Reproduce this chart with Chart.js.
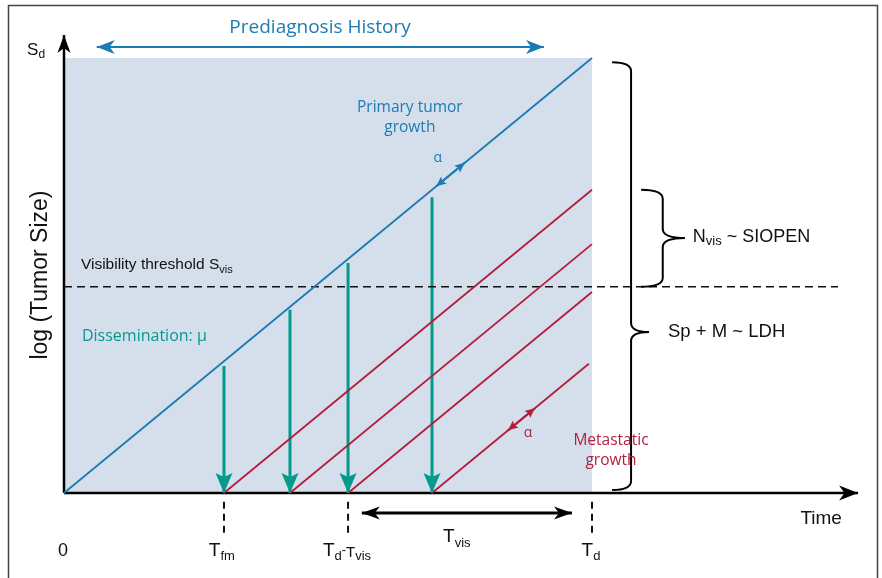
<!DOCTYPE html>
<html>
<head>
<meta charset="utf-8">
<script src="https://cdn.jsdelivr.net/npm/chart.js@4.4.1/dist/chart.umd.min.js"></script>
<style>
  html, body { margin: 0; padding: 0; background: #fff; }
  #wrap { width: 882px; height: 578px; position: relative; }
</style>
</head>
<body>
<div id="wrap"><canvas id="chart" width="882" height="578"></canvas></div>
<script>
// Schematic of tumour history: primary growth, dissemination, metastatic growth
// x = time (T_d = 10), y = log(tumor size) (S_d = 10)
const diagnosisTime = 10;          // T_d
const diagnosisSize = 10;          // S_d
const visibilityThreshold = 4.74;  // S_vis
const thresholdEnd = 14.66;
const metastasisOnsets = [3.03, 4.28, 5.38, 6.97];
const metastasisEnds = [10, 10, 10, 9.94];
const disseminationTops = [2.92, 4.21, 5.29, 6.80];
const timeTicks = [3.03, 5.38, 10];      // T_fm, T_d - T_vis, T_d
const tickSpan = [-0.2, -0.95];
const tvisSpan = [5.64, 9.62];
const tvisLevel = -0.46;
const historySpan = [0.62, 9.09];
const historyLevel = 10.25;
const primaryAlpha = [7.05, 7.59];
const metastasisAlpha = [8.41, 8.92];
const axisTips = [15.04, 10.53];         // x arrow tip, y arrow tip

const BLUE = '#1b7bb4';
const RED = '#b31e3d';
const TEAL = '#039a8c';
const SHADE = '#d5dfec';
const BLACK_FONT = 'Arial, "Liberation Sans", sans-serif';
const COLOR_FONT = '"Open Sans", Arial, sans-serif';

function seg(x0, y0, x1, y1) {
    return [{ x: x0, y: y0 }, { x: x1, y: y1 }];
}

const datasets = [];

// shaded prediagnosis area
datasets.push({
    data: seg(0, diagnosisSize, diagnosisTime, diagnosisSize),
    borderWidth: 0, borderColor: 'rgba(0,0,0,0)',
    backgroundColor: SHADE, fill: 'origin', order: 10
});

// primary tumor growth
datasets.push({
    data: seg(0, 0, diagnosisTime, diagnosisSize),
    borderColor: BLUE, borderWidth: 1.8
});

// metastatic growth lines
metastasisOnsets.forEach((t, i) => {
    datasets.push({
        data: seg(t, 0, metastasisEnds[i], metastasisEnds[i] - t),
        borderColor: RED, borderWidth: 1.8
    });
});

// visibility threshold
datasets.push({
    data: seg(0, visibilityThreshold, thresholdEnd, visibilityThreshold),
    borderColor: '#111', borderWidth: 1.6, borderDash: [8, 5]
});

// dissemination arrows
metastasisOnsets.forEach((t, i) => {
    datasets.push({
        data: seg(t, disseminationTops[i], t, 0),
        borderColor: TEAL, borderWidth: 3,
        arrow: 'end', headLen: 20, headWidth: 17, notch: 0.8
    });
});

// dashed time ticks below the axis
timeTicks.forEach(t => {
    datasets.push({
        data: seg(t, tickSpan[0], t, tickSpan[1]),
        borderColor: '#111', borderWidth: 2, borderDash: [7, 5]
    });
});

// axes
datasets.push({
    data: seg(0, 0, 0, axisTips[1]),
    borderColor: '#000', borderWidth: 2.5, arrow: 'end', headLen: 18, headWidth: 13
});
datasets.push({
    data: seg(0, 0, axisTips[0], 0),
    borderColor: '#000', borderWidth: 2.5, arrow: 'end', headLen: 19, headWidth: 15
});

// prediagnosis history span
datasets.push({
    data: seg(historySpan[0], historyLevel, historySpan[1], historyLevel),
    borderColor: BLUE, borderWidth: 2, arrow: 'both', headLen: 18, headWidth: 14
});

// T_vis span
datasets.push({
    data: seg(tvisSpan[0], tvisLevel, tvisSpan[1], tvisLevel),
    borderColor: '#000', borderWidth: 3, arrow: 'both', headLen: 18, headWidth: 13
});

// alpha growth-rate markers
datasets.push({
    data: seg(primaryAlpha[0], primaryAlpha[0], primaryAlpha[1], primaryAlpha[1]),
    borderColor: BLUE, borderWidth: 2, arrow: 'both', headLen: 10, headWidth: 9, notch: 0.8
});
const lastOnset = metastasisOnsets[metastasisOnsets.length - 1];
datasets.push({
    data: seg(metastasisAlpha[0], metastasisAlpha[0] - lastOnset, metastasisAlpha[1], metastasisAlpha[1] - lastOnset),
    borderColor: RED, borderWidth: 2, arrow: 'both', headLen: 10, headWidth: 9, notch: 0.8
});

datasets.forEach(d => {
    d.showLine = true;
    d.pointRadius = 0;
    d.pointHoverRadius = 0;
    d.clip = false;
    if (d.fill === undefined) d.fill = false;
    if (d.order === undefined) d.order = 0;
});

// notched arrow head with its tip at (x, y), pointing along (dx, dy)
function arrowHead(ctx, x, y, dx, dy, len, width, notch, color) {
    const n = Math.hypot(dx, dy);
    const ux = dx / n, uy = dy / n;
    const nx = -uy, ny = ux;
    const bx = x - ux * len, by = y - uy * len;
    const mx = x - ux * len * notch, my = y - uy * len * notch;
    ctx.beginPath();
    ctx.moveTo(x, y);
    ctx.lineTo(bx + nx * width / 2, by + ny * width / 2);
    ctx.lineTo(mx, my);
    ctx.lineTo(bx - nx * width / 2, by - ny * width / 2);
    ctx.closePath();
    ctx.fillStyle = color;
    ctx.fill();
}

const arrowPlugin = {
    id: 'arrows',
    afterDatasetsDraw(chart) {
        const ctx = chart.ctx;
        chart.data.datasets.forEach((ds, i) => {
            if (!ds.arrow) return;
            const pts = chart.getDatasetMeta(i).data;
            const a = pts[0], b = pts[pts.length - 1];
            const notch = ds.notch || 0.72;
            ctx.save();
            arrowHead(ctx, b.x, b.y, b.x - a.x, b.y - a.y, ds.headLen, ds.headWidth, notch, ds.borderColor);
            if (ds.arrow === 'both') {
                arrowHead(ctx, a.x, a.y, a.x - b.x, a.y - b.y, ds.headLen, ds.headWidth, notch, ds.borderColor);
            }
            ctx.restore();
        });
    }
};

// curly braces on the right
const braces = [
    { xl: 10.38, xv: 10.74, xt: 11.08, top: diagnosisSize * 0.99, mid: 3.70, bottom: 0.07 },
    { xl: 10.93, xv: 11.34, xt: 11.76, top: metastasisEnds[0] - metastasisOnsets[0], mid: 5.86, bottom: visibilityThreshold }
];

const bracePlugin = {
    id: 'braces',
    afterDatasetsDraw(chart) {
        const ctx = chart.ctx;
        const px = v => chart.scales.x.getPixelForValue(v);
        const py = v => chart.scales.y.getPixelForValue(v);
        ctx.save();
        ctx.strokeStyle = '#000';
        ctx.lineWidth = 2;
        braces.forEach(b => {
            const xl = px(b.xl), xv = px(b.xv), xt = px(b.xt);
            const yt = py(b.top), ym = py(b.mid), yb = py(b.bottom);
            const r = 9;
            ctx.beginPath();
            ctx.moveTo(xl, yt);
            ctx.quadraticCurveTo(xv, yt, xv, yt + r);
            ctx.lineTo(xv, ym - r);
            ctx.quadraticCurveTo(xv, ym, xt, ym);
            ctx.quadraticCurveTo(xv, ym, xv, ym + r);
            ctx.lineTo(xv, yb - r);
            ctx.quadraticCurveTo(xv, yb, xl, yb);
            ctx.stroke();
        });
        ctx.restore();
    }
};

// labels: parts = [text, size, dy]
const labels = [
    { x: 4.85, y: 10.69, align: 'center', color: BLUE, font: COLOR_FONT, parts: [['Prediagnosis History', 19]] },
    { x: 6.55, y: 8.85, align: 'center', color: BLUE, font: COLOR_FONT, parts: [['Primary tumor', 15.5]] },
    { x: 6.55, y: 8.41, align: 'center', color: BLUE, font: COLOR_FONT, parts: [['growth', 15.5]] },
    { x: 7.08, y: 7.70, align: 'center', color: BLUE, font: COLOR_FONT, parts: [['\u03b1', 14]] },
    { x: 0.34, y: 3.59, align: 'left', color: TEAL, font: COLOR_FONT, parts: [['Dissemination: \u03bc', 16]] },
    { x: 0.32, y: 5.24, align: 'left', color: '#111', font: BLACK_FONT, parts: [['Visibility threshold S', 15.5], ['vis', 11, 5]] },
    { x: 10.36, y: 1.20, align: 'center', color: RED, font: COLOR_FONT, parts: [['Metastatic', 15.5]] },
    { x: 10.36, y: 0.74, align: 'center', color: RED, font: COLOR_FONT, parts: [['growth', 15.5]] },
    { x: 8.79, y: 1.38, align: 'center', color: RED, font: COLOR_FONT, parts: [['\u03b1', 14]] },
    { x: 11.91, y: 5.89, align: 'left', color: '#111', font: BLACK_FONT, parts: [['N', 18], ['vis', 13, 5], [' ~ SIOPEN', 18]] },
    { x: 11.44, y: 3.70, align: 'left', color: '#111', font: BLACK_FONT, parts: [['Sp + M ~ LDH', 18.5]] },
    { x: 14.34, y: -0.60, align: 'center', color: '#111', font: BLACK_FONT, parts: [['Time', 19]] },
    { x: -0.02, y: -1.33, align: 'center', color: '#111', font: BLACK_FONT, parts: [['0', 18]] },
    { x: timeTicks[0] - 0.04, y: -1.33, align: 'center', color: '#111', font: BLACK_FONT, parts: [['T', 19], ['fm', 13, 6]] },
    { x: timeTicks[1] - 0.02, y: -1.33, align: 'center', color: '#111', font: BLACK_FONT, parts: [['T', 19], ['d', 13, 6], ['-', 13, 0], ['T', 15, 2], ['vis', 13, 6]] },
    { x: 7.44, y: -1.01, align: 'center', color: '#111', font: BLACK_FONT, parts: [['T', 19], ['vis', 13, 6]] },
    { x: diagnosisTime - 0.02, y: -1.33, align: 'center', color: '#111', font: BLACK_FONT, parts: [['T', 19], ['d', 13, 6]] },
    { x: -0.70, y: 10.18, align: 'left', color: '#111', font: BLACK_FONT, parts: [['S', 17], ['d', 12, 5]] }
];

function drawParts(ctx, parts, x, y, align, font) {
    let w = 0;
    parts.forEach(p => {
        ctx.font = p[1] + 'px ' + font;
        w += ctx.measureText(p[0]).width;
    });
    let cx = align === 'center' ? x - w / 2 : x;
    ctx.textAlign = 'left';
    ctx.textBaseline = 'middle';
    parts.forEach(p => {
        ctx.font = p[1] + 'px ' + font;
        ctx.fillText(p[0], cx, y + (p[2] || 0));
        cx += ctx.measureText(p[0]).width;
    });
}

const labelPlugin = {
    id: 'labels',
    afterDraw(chart) {
        const ctx = chart.ctx;
        const px = v => chart.scales.x.getPixelForValue(v);
        const py = v => chart.scales.y.getPixelForValue(v);
        ctx.save();
        labels.forEach(l => {
            ctx.fillStyle = l.color;
            drawParts(ctx, l.parts, px(l.x), py(l.y), l.align, l.font);
        });
        // y axis title
        ctx.translate(px(-0.45), py(5.01));
        ctx.rotate(-Math.PI / 2);
        ctx.fillStyle = '#111';
        drawParts(ctx, [['log (Tumor Size)', 23]], 0, 0, 'center', BLACK_FONT);
        ctx.restore();
        // figure frame
        ctx.save();
        ctx.strokeStyle = '#444';
        ctx.lineWidth = 1.5;
        ctx.strokeRect(8.5, 5.5, 869, 640);
        ctx.restore();
    }
};

new Chart(document.getElementById('chart'), {
    type: 'scatter',
    data: { datasets: datasets },
    options: {
        responsive: false,
        animation: false,
        layout: { padding: 0 },
        plugins: {
            legend: { display: false },
            tooltip: { enabled: false },
            title: { display: false }
        },
        scales: {
            x: { type: 'linear', min: -1.2121, max: 15.4924, display: false },
            y: { type: 'linear', min: -1.954, max: 11.333, display: false }
        }
    },
    plugins: [arrowPlugin, bracePlugin, labelPlugin]
});
</script>
</body>
</html>
